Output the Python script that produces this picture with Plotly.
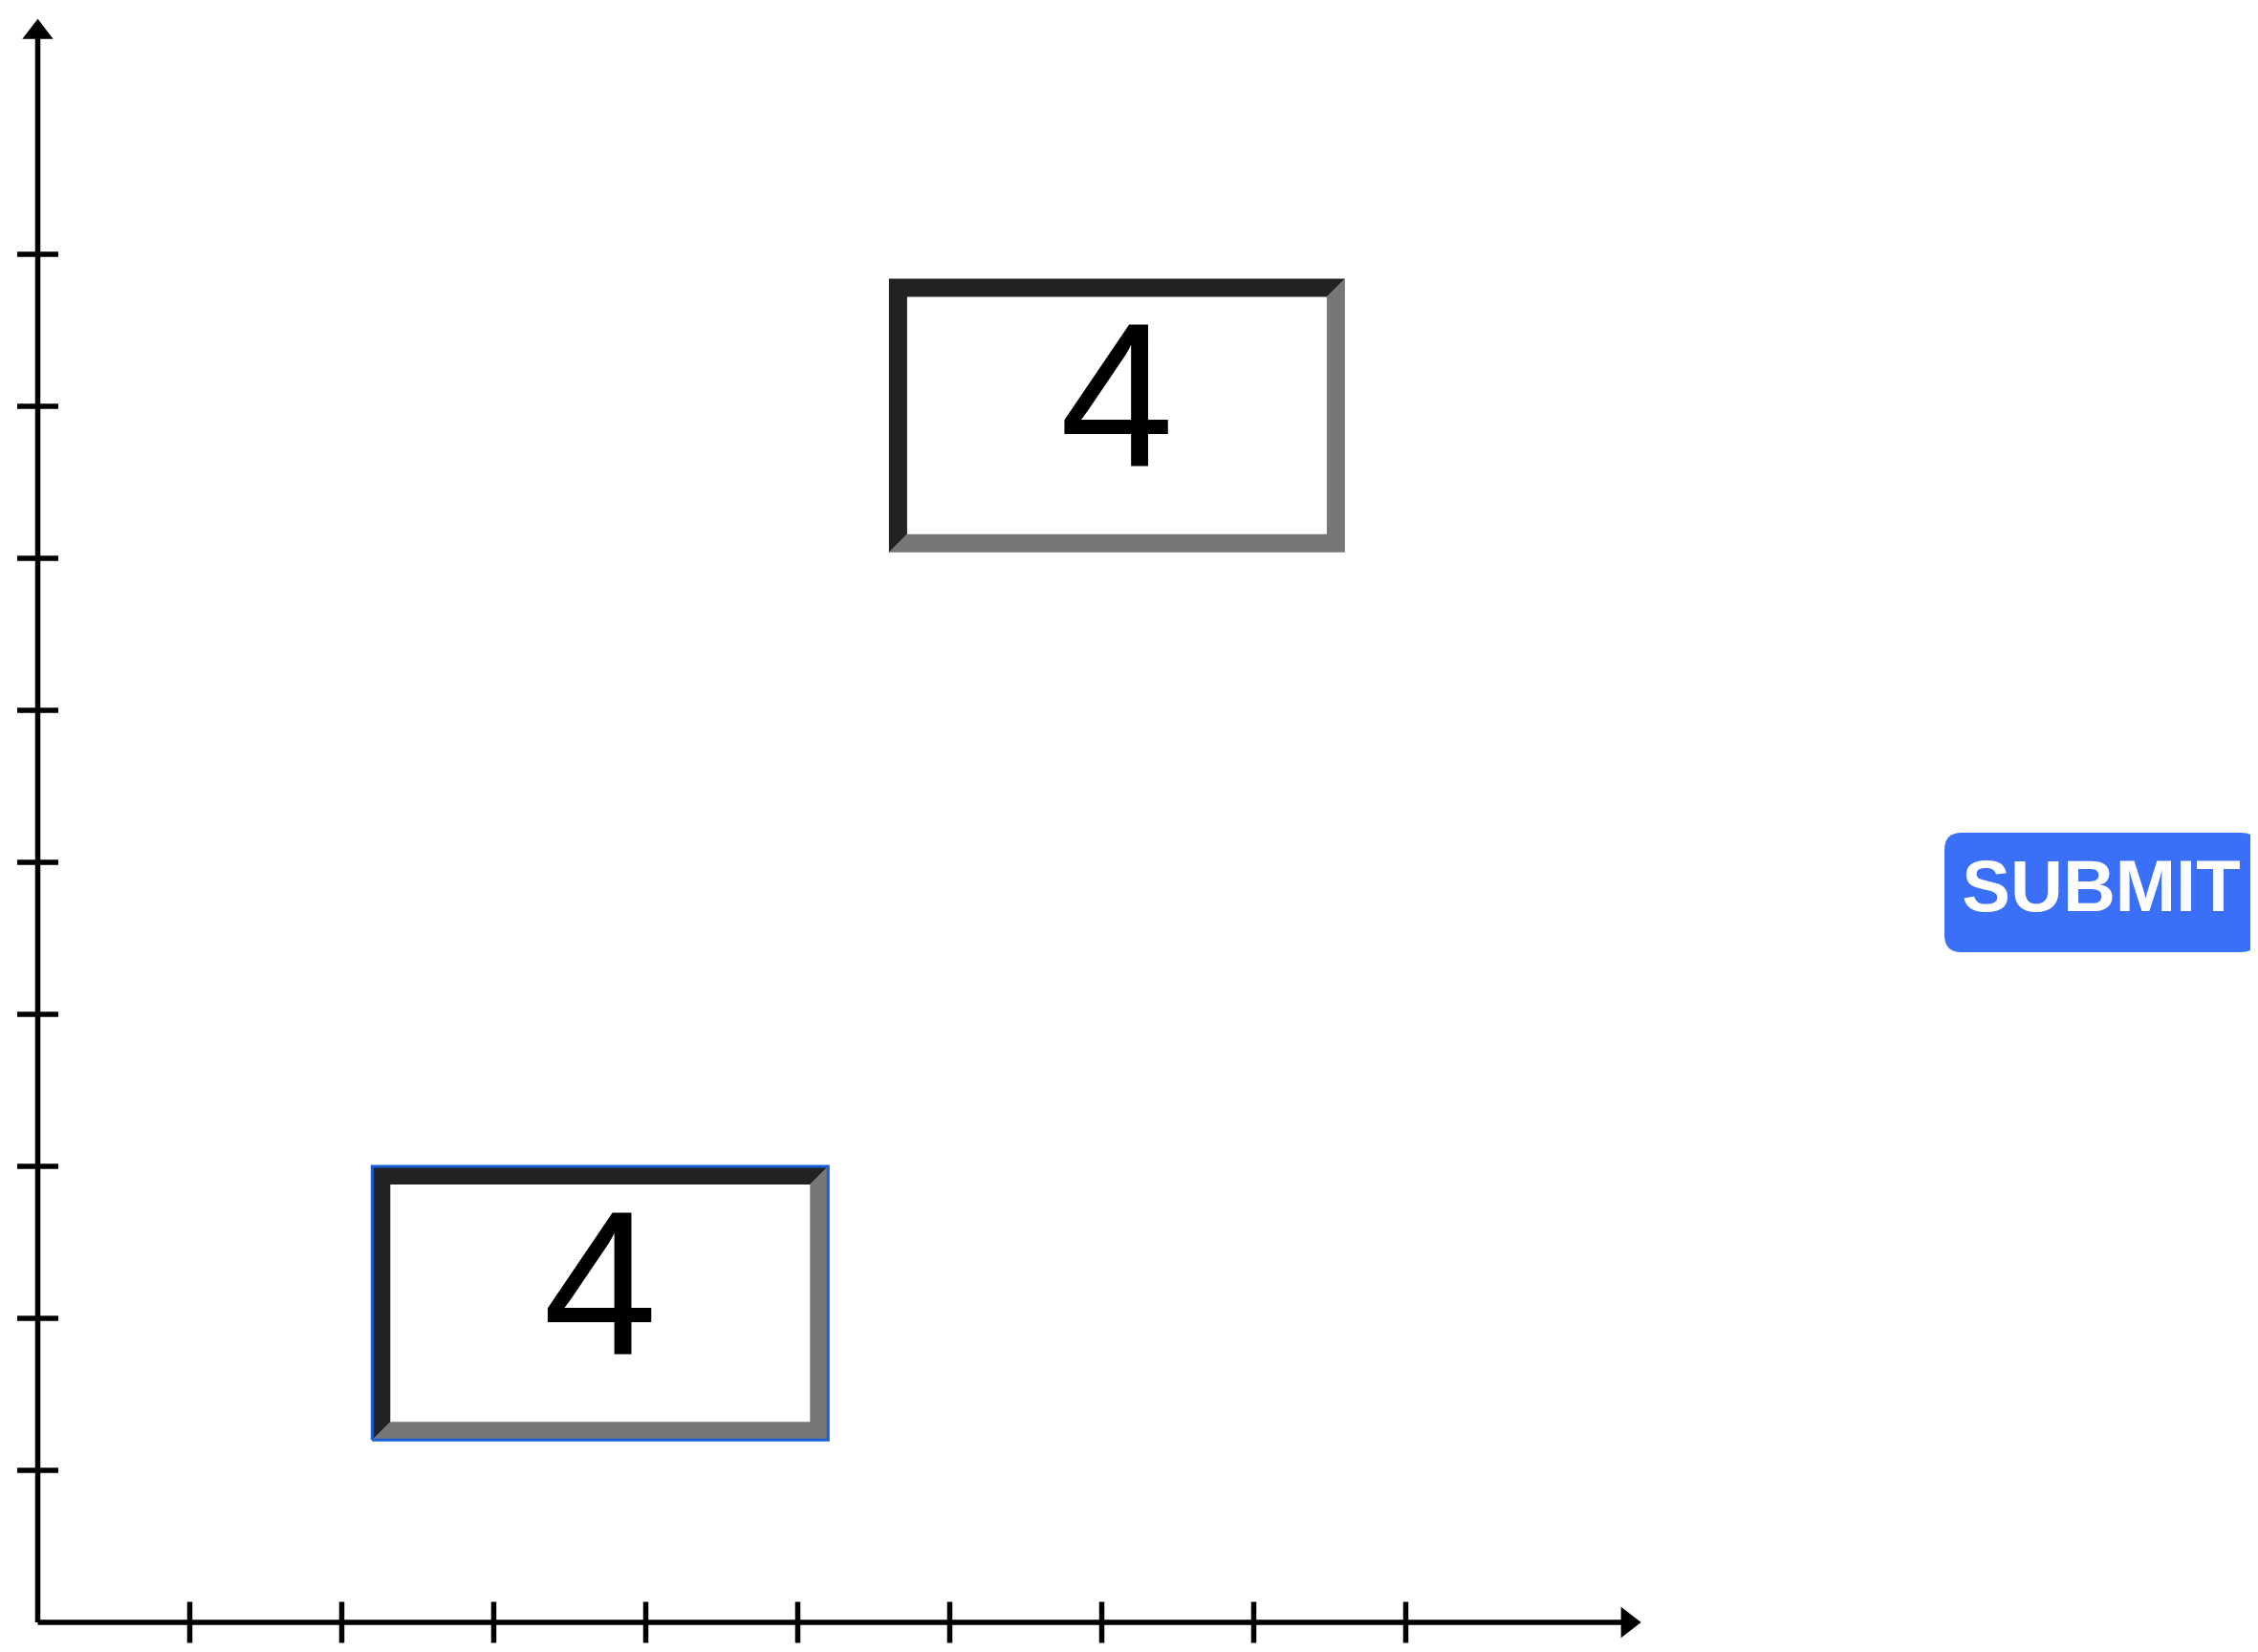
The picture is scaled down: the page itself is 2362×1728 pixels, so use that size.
import plotly.graph_objects as go

W, H = 2362, 1728
x_ticks = [1, 2, 3, 4, 5, 6, 7, 8, 9]
y_ticks = [1, 2, 3, 4, 5, 6, 7, 8, 9]
axis_end = 10.58
box_labels = ["4", "4"]
box_x0 = [5.6, 2.2]
box_y0 = [7.04, 1.2]
box_w = 3.0
box_h = 1.8
selected = [False, True]
button_text = "SUBMIT"

unit = 159.0
ox, oy = 31.5, 1689.0
xr = [-ox / unit, (W - ox) / unit]
yr = [-(H - oy) / unit, oy / unit]

def px_x(p): return (p - ox) / unit
def px_y(p): return (oy - p) / unit

fig = go.Figure()
fig.add_trace(go.Scatter(x=[0, axis_end - 0.1], y=[0, 0], mode="lines",
                         line=dict(color="black", width=5.5), hoverinfo="skip"))
fig.add_trace(go.Scatter(x=[0, 0], y=[0, axis_end - 0.1], mode="lines",
                         line=dict(color="black", width=5.5), hoverinfo="skip"))
fig.add_trace(go.Scatter(x=[axis_end - 0.12], y=[0], mode="markers",
                         marker=dict(symbol="triangle-right", size=28, color="black"), hoverinfo="skip"))
fig.add_trace(go.Scatter(x=[0], y=[axis_end - 0.12], mode="markers",
                         marker=dict(symbol="triangle-up", size=28, color="black"), hoverinfo="skip"))
tl = 0.135
tx, ty = [], []
for t in x_ticks:
    tx += [t, t, None]; ty += [-tl, tl, None]
for t in y_ticks:
    tx += [-tl, tl, None]; ty += [t, t, None]
fig.add_trace(go.Scatter(x=tx, y=ty, mode="lines",
                         line=dict(color="black", width=5.5), hoverinfo="skip"))

th = 19 / unit
for lab, x0, y0, sel in zip(box_labels, box_x0, box_y0, selected):
    x1, y1 = x0 + box_w, y0 + box_h
    dark_x = [x0, x0, x1, x1 - th, x0 + th, x0 + th, x0]
    dark_y = [y0, y1, y1, y1 - th, y1 - th, y0 + th, y0]
    gray_x = [x0, x1, x1, x1 - th, x1 - th, x0 + th, x0]
    gray_y = [y0, y0, y1, y1 - th, y0 + th, y0 + th, y0]
    fig.add_trace(go.Scatter(x=gray_x, y=gray_y, fill="toself", fillcolor="#777777",
                             mode="lines", line=dict(width=0), hoverinfo="skip"))
    fig.add_trace(go.Scatter(x=dark_x, y=dark_y, fill="toself", fillcolor="#222222",
                             mode="lines", line=dict(width=0), hoverinfo="skip"))
    if sel:
        fig.add_trace(go.Scatter(x=[x0, x1, x1, x0, x0], y=[y0, y0, y1, y1, y0], mode="lines",
                                 line=dict(color="#1a5fd6", width=3), hoverinfo="skip"))
    fig.add_trace(go.Scatter(x=[(x0 + x1) / 2], y=[(y0 + y1) / 2], mode="text", text=[lab],
                             textposition="middle center",
                             textfont=dict(family="Liberation Sans, Arial", size=215, color="black"),
                             hoverinfo="skip"))

# submit button (rounded)
bx0, bx1 = px_x(2026), px_x(2354)
by0, by1 = px_y(988), px_y(863)
r = 18 / unit
path = (f"M {bx0+r},{by0} L {bx1-r},{by0} Q {bx1},{by0} {bx1},{by0+r} "
        f"L {bx1},{by1-r} Q {bx1},{by1} {bx1-r},{by1} L {bx0+r},{by1} "
        f"Q {bx0},{by1} {bx0},{by1-r} L {bx0},{by0+r} Q {bx0},{by0} {bx0+r},{by0} Z")
fig.add_shape(type="path", path=path, fillcolor="#3a6ff7", line=dict(width=0), layer="below")
fig.add_trace(go.Scatter(x=[(bx0 + bx1) / 2], y=[(by0 + by1) / 2], mode="text",
                         text=[f"<b>{button_text}</b>"], textposition="middle center",
                         textfont=dict(family="Liberation Sans, Arial", size=76, color="white"),
                         hoverinfo="skip"))

fig.update_layout(width=W, height=H, margin=dict(l=0, r=0, t=0, b=0),
                  plot_bgcolor="white", paper_bgcolor="white", showlegend=False,
                  xaxis=dict(range=xr, visible=False, fixedrange=True),
                  yaxis=dict(range=yr, visible=False, fixedrange=True))
fig.write_html("out.html", config={"displayModeBar": False})
